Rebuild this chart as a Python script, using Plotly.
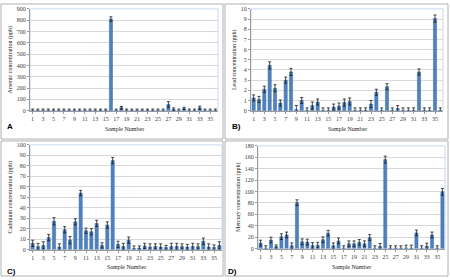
import plotly.graph_objects as go

samples = list(range(1, 37))

arsenic = [2, 2, 2, 2, 2, 2, 2, 2, 2, 2, 2, 2, 2, 2, 2, 810, 2, 25, 2, 2, 2, 2, 2, 2, 2, 2, 55, 12, 2, 20, 2, 2, 25, 2, 2, 2]
arsenic_err = [12, 12, 12, 12, 12, 12, 12, 12, 12, 12, 12, 12, 12, 12, 12, 20, 12, 12, 12, 12, 12, 12, 12, 12, 12, 12, 25, 12, 12, 10, 12, 12, 15, 12, 12, 12]

lead = [1.25, 1.1, 2.1, 4.45, 2.2, 0.75, 3.0, 3.8, 0.1, 1.0, 0.02, 0.5, 0.85, 0.02, 0.02, 0.35, 0.45, 0.8, 0.9, 0.02, 0.02, 0.02, 0.65, 1.8, 0.02, 2.35, 0.02, 0.2, 0.02, 0.02, 0.02, 3.8, 0.02, 0.02, 9.05, 0.02]
lead_err = [0.3, 0.3, 0.3, 0.35, 0.35, 0.3, 0.3, 0.35, 0.4, 0.3, 0.25, 0.35, 0.3, 0.25, 0.25, 0.3, 0.3, 0.35, 0.35, 0.25, 0.25, 0.25, 0.35, 0.3, 0.25, 0.3, 0.25, 0.3, 0.25, 0.25, 0.25, 0.3, 0.25, 0.25, 0.35, 0.25]

cadmium = [6, 3, 4, 11.5, 27, 2.5, 19, 9, 26.5, 54, 18, 17, 25, 4, 23.5, 85, 5, 3, 9, 1, 1.5, 3.5, 2.5, 3, 2.5, 2, 3, 3, 3, 2.5, 3, 3, 8, 2.5, 2, 4]
cadmium_err = [3, 3, 3.5, 3, 3.5, 3, 3, 3.5, 3, 2.5, 2.5, 3, 3, 2.5, 3, 3, 3, 3, 3, 2.5, 2, 2.5, 3, 2.5, 3, 2, 3, 3, 2.5, 2.5, 3, 2.5, 3, 3, 2.5, 3.5]

mercury = [9.7, 1, 15, 3.5, 21, 24, 5, 80.5, 12, 11.5, 5.5, 6, 15.5, 27, 5, 13.5, 1, 8.5, 8.5, 11, 8.5, 19.5, 1, 4, 156, 1, 1, 1, 1, 1, 27.5, 1, 4.5, 24, 1, 99.5]
mercury_err = [5, 4, 5, 3, 5, 5, 5, 5, 5, 5, 5, 5, 5, 5, 5, 5, 4, 5, 5, 5, 5, 5, 4, 5, 6, 4, 4, 4, 5, 5, 5, 4, 5, 5, 4, 6]

xticks = list(range(1, 36, 2))

W, H = 450, 280
def px(x):
    return x / W
def py(y):
    return 1 - y / H

panels = [
    dict(x=arsenic, e=arsenic_err, title="Arsenic concentration (ppb)", yr=[0, 900], dt=100,
         dom_x=[px(30), px(218)], dom_y=[py(110), py(6)], label="A", lx=10, ly=126, sx=124, sy=129),
    dict(x=lead, e=lead_err, title="Lead concentration (ppb)", yr=[0, 10], dt=1,
         dom_x=[px(251), px(443)], dom_y=[py(110), py(6)], label="B)", lx=236, ly=126, sx=347, sy=129),
    dict(x=cadmium, e=cadmium_err, title="Cadmium concentration (ppb)", yr=[0, 100], dt=10,
         dom_x=[px(30), px(222)], dom_y=[py(252), py(145)], label="C)", lx=11, ly=274, sx=126, sy=270),
    dict(x=mercury, e=mercury_err, title="Mercury concentration (ppb)", yr=[0, 180], dt=20,
         dom_x=[px(258), px(445)], dom_y=[py(251), py(146)], label="D)", lx=232, ly=274, sx=351, sy=270),
]

fig = go.Figure()
font_serif = "Liberation Serif"
tick_col = "#404040"
annotations = []
shapes = []

frames = [(1, 1, 223, 139), (225, 1, 448, 139), (1, 141, 223, 279), (225, 141, 448, 279)]
for (x0, y0, x1, y1) in frames:
    shapes.append(dict(type="rect", xref="paper", yref="paper", x0=px(x0), x1=px(x1), y0=py(y1), y1=py(y0),
                       line=dict(color="#b0b0b0", width=1), fillcolor="rgba(0,0,0,0)", layer="below"))

for i, p in enumerate(panels):
    n = "" if i == 0 else str(i + 1)
    fig.add_trace(go.Bar(
        x=samples, y=p["x"], xaxis="x" + n, yaxis="y" + n,
        marker=dict(color="#4f81bd", line=dict(color="#3a6aa6", width=0.5)),
        error_y=dict(type="data", array=p["e"], visible=True, color="#1a1a1a", thickness=0.8, width=1.5),
        showlegend=False,
    ))
    xa = dict(domain=p["dom_x"], anchor="y" + n, range=[0.5, 36.5], tickmode="array", tickvals=xticks,
              ticktext=[str(t) for t in xticks], tickfont=dict(family=font_serif, size=6, color=tick_col),
              showgrid=False, showline=True, linecolor="#9a9a9a", linewidth=1, ticks="outside", ticklen=2,
              tickcolor="#9a9a9a", zeroline=False)
    ya = dict(domain=p["dom_y"], anchor="x" + n, range=p["yr"], dtick=p["dt"],
              tickfont=dict(family=font_serif, size=6, color=tick_col),
              showgrid=True, gridcolor="#d9d9d9", gridwidth=0.8, showline=True, linecolor="#9a9a9a",
              ticks="outside", ticklen=2, tickcolor="#9a9a9a", zeroline=False,
              title=dict(text=p["title"], font=dict(family=font_serif, size=6, color="#222222"), standoff=3))
    fig.update_layout({"xaxis" + n: xa, "yaxis" + n: ya})
    shapes.append(dict(type="rect", xref="paper", yref="paper", x0=p["dom_x"][0], x1=p["dom_x"][1],
                       y0=p["dom_y"][0], y1=p["dom_y"][1], line=dict(color="#c6d9f1", width=1),
                       fillcolor="rgba(0,0,0,0)", layer="below"))
    annotations.append(dict(text="<b>" + p["label"] + "</b>", x=px(p["lx"]), y=py(p["ly"]), xref="paper", yref="paper",
                            showarrow=False, font=dict(family="Liberation Sans", size=8, color="#000000"),
                            xanchor="center", yanchor="middle"))
    annotations.append(dict(text="Sample Number", x=px(p["sx"]), y=py(p["sy"]), xref="paper", yref="paper",
                            showarrow=False, font=dict(family=font_serif, size=6, color="#222222"),
                            xanchor="center", yanchor="middle"))

fig.update_layout(
    width=W, height=H, margin=dict(l=0, r=0, t=0, b=0),
    paper_bgcolor="white", plot_bgcolor="white", bargap=0.4,
    annotations=annotations, shapes=shapes,
)

fig.write_html("out.html", config={"displayModeBar": False},
               post_script="document.body.style.margin='0';document.body.style.overflow='hidden';")
